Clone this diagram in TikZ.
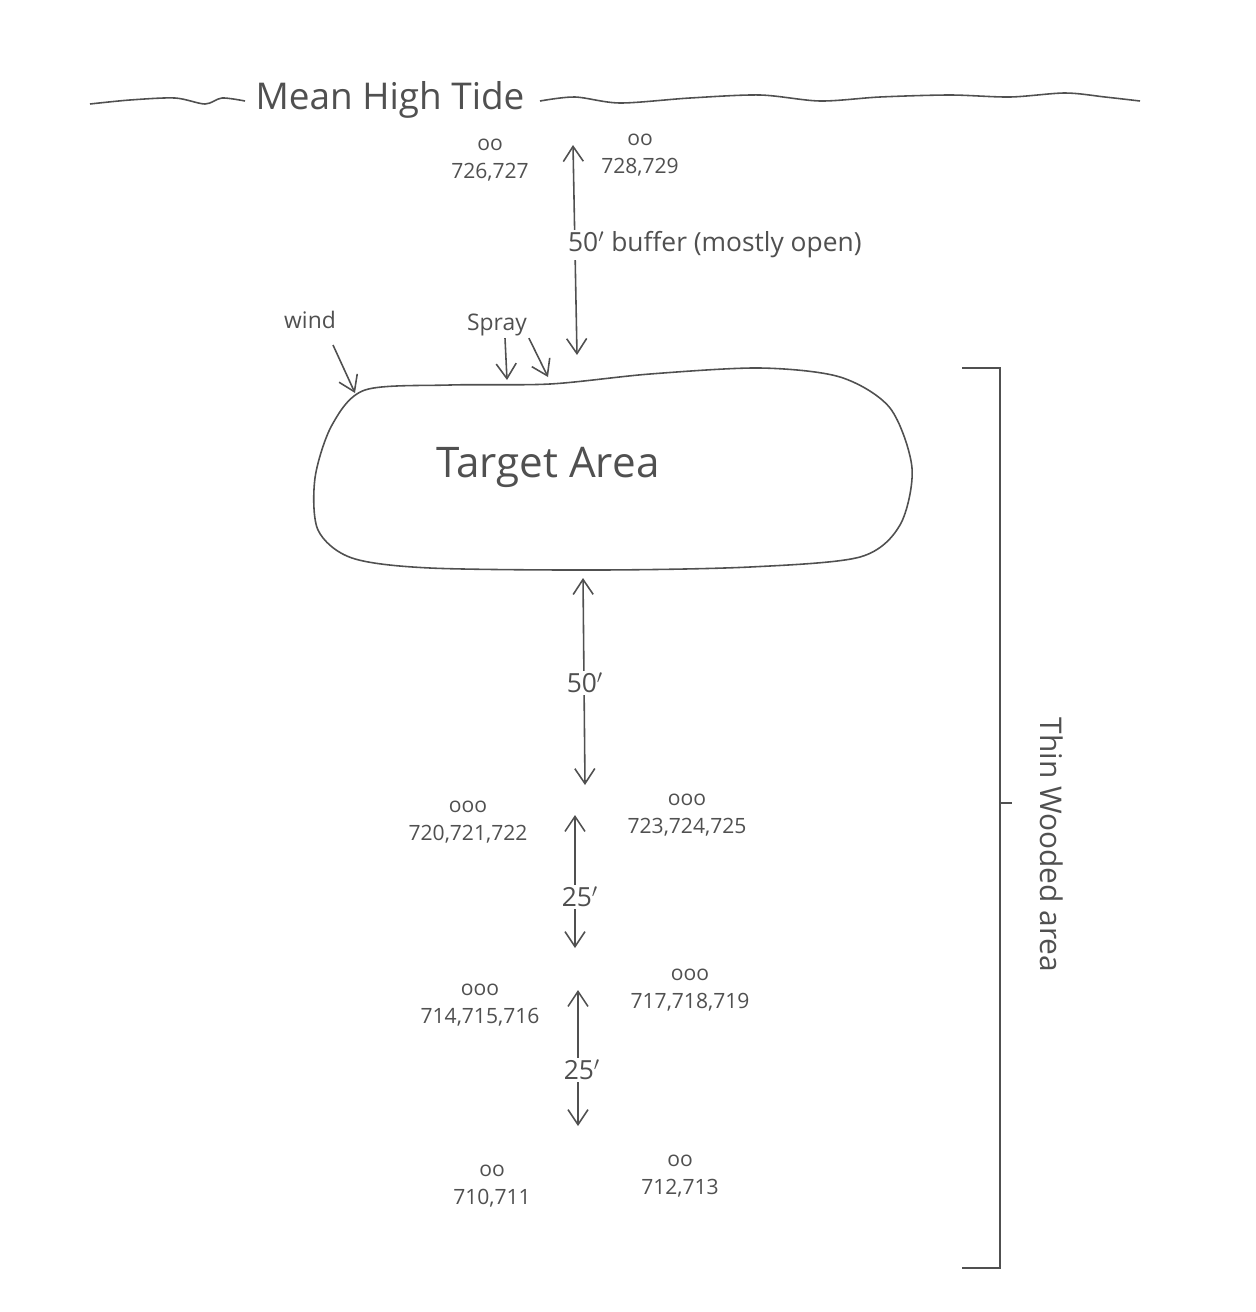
\documentclass[tikz,border=0pt]{standalone}
\usepackage{fontspec}
\setmainfont{Open Sans}
\usetikzlibrary{arrows.meta}
\definecolor{pencil}{RGB}{80,80,80}
\tikzset{
  hand/.style={pencil, line width=0.9pt},
  lbl/.style={text=pencil, font=\fontsize{13}{15}\selectfont, align=center, inner sep=1pt},
  plants/.style={lbl, font=\fontsize{12}{16}\selectfont},
  gap/.style={lbl, fill=white, font=\fontsize{15}{17}\selectfont},
  >={Straight Barb[length=3mm,width=4mm]}
}
\begin{document}
\begin{tikzpicture}[x=0.02cm,y=-0.02cm]
        \useasboundingbox (0,0) rectangle (1256,1312);
        % shore line
        \node[lbl, font=\fontsize{21}{24}\selectfont] (tide) at (390,100) {Mean High Tide};
        \draw[hand] plot[smooth] coordinates {(90,104) (130,100) (175,98) (205,104) (222,98) (245,101)};
        \draw[hand] plot[smooth] coordinates {(540,101) (575,97) (620,103) (690,98) (760,95) (820,101) (880,97) (950,95) (1010,97) (1065,93) (1105,97) (1140,101)};
        \node[plants] (p726) at (490,160) {oo\\726,727};
        \node[plants] (p728) at (640,155) {oo\\728,729};
        % buffer to the tide
        \coordinate (buftop) at (573,145);
        \coordinate (bufbot) at (577,355);
        \draw[hand,<->] (buftop) -- (bufbot);
        \node[gap, anchor=west] (buffer) at (566,245) {50$'$ buffer (mostly open)};
        % target area
        \draw[hand] plot[smooth cycle] coordinates {(365,390) (450,385) (550,384) (650,374) (760,368) (840,377) (890,408) (912,468) (900,525) (860,557) (750,567) (600,570) (430,568) (352,558) (318,530) (315,478) (332,425)};
        \node[lbl, font=\fontsize{24}{26}\selectfont] (target) at (548,467) {Target Area};
        \node[lbl] (wind) at (310,320) {wind};
        \coordinate (windtip) at (355,393);
        \draw[hand,->] (333,345) -- (windtip);
        \node[lbl] (spray) at (497,325) {Spray};
        \coordinate (spraya) at (507,380);
        \coordinate (sprayb) at (548,377);
        \draw[hand,->] (spray.south) ++(8,0) -- (spraya);
        \draw[hand,->] (spray.south east) -- (sprayb);
        % spacings down the transect
        \coordinate (d1top) at (583,578);
        \coordinate (d1bot) at (585,785);
        \draw[hand,<->] (d1top) -- (d1bot);
        \node[gap] (d1) at (585,683) {50$'$};
        \node[plants] (p720) at (468,822) {ooo\\720,721,722};
        \node[plants] (p723) at (687,815) {ooo\\723,724,725};
        \coordinate (d2top) at (575,815);
        \coordinate (d2bot) at (575,948);
        \draw[hand,<->] (d2top) -- (d2bot);
        \node[gap] (d2) at (580,897) {25$'$};
        \node[plants] (p714) at (480,1005) {ooo\\714,715,716};
        \node[plants] (p717) at (690,990) {ooo\\717,718,719};
        \coordinate (d3top) at (578,990);
        \coordinate (d3bot) at (578,1126);
        \draw[hand,<->] (d3top) -- (d3bot);
        \node[gap] (d3) at (582,1070) {25$'$};
        \node[plants] (p710) at (492,1186) {oo\\710,711};
        \node[plants] (p712) at (680,1176) {oo\\712,713};
        % wooded strip
        \coordinate (brtop) at (1000,368);
        \coordinate (brbot) at (1000,1268);
        \coordinate (brmid) at (1000,803);
        \draw[hand] (962,368) -- (brtop) -- (brbot) -- (962,1268);
        \draw[hand] (brmid) -- ++(12,0);
        \node[lbl, rotate=-90, font=\fontsize{17}{19}\selectfont] (wood) at (1052,845) {Thin Wooded area};
\end{tikzpicture}
\end{document}
